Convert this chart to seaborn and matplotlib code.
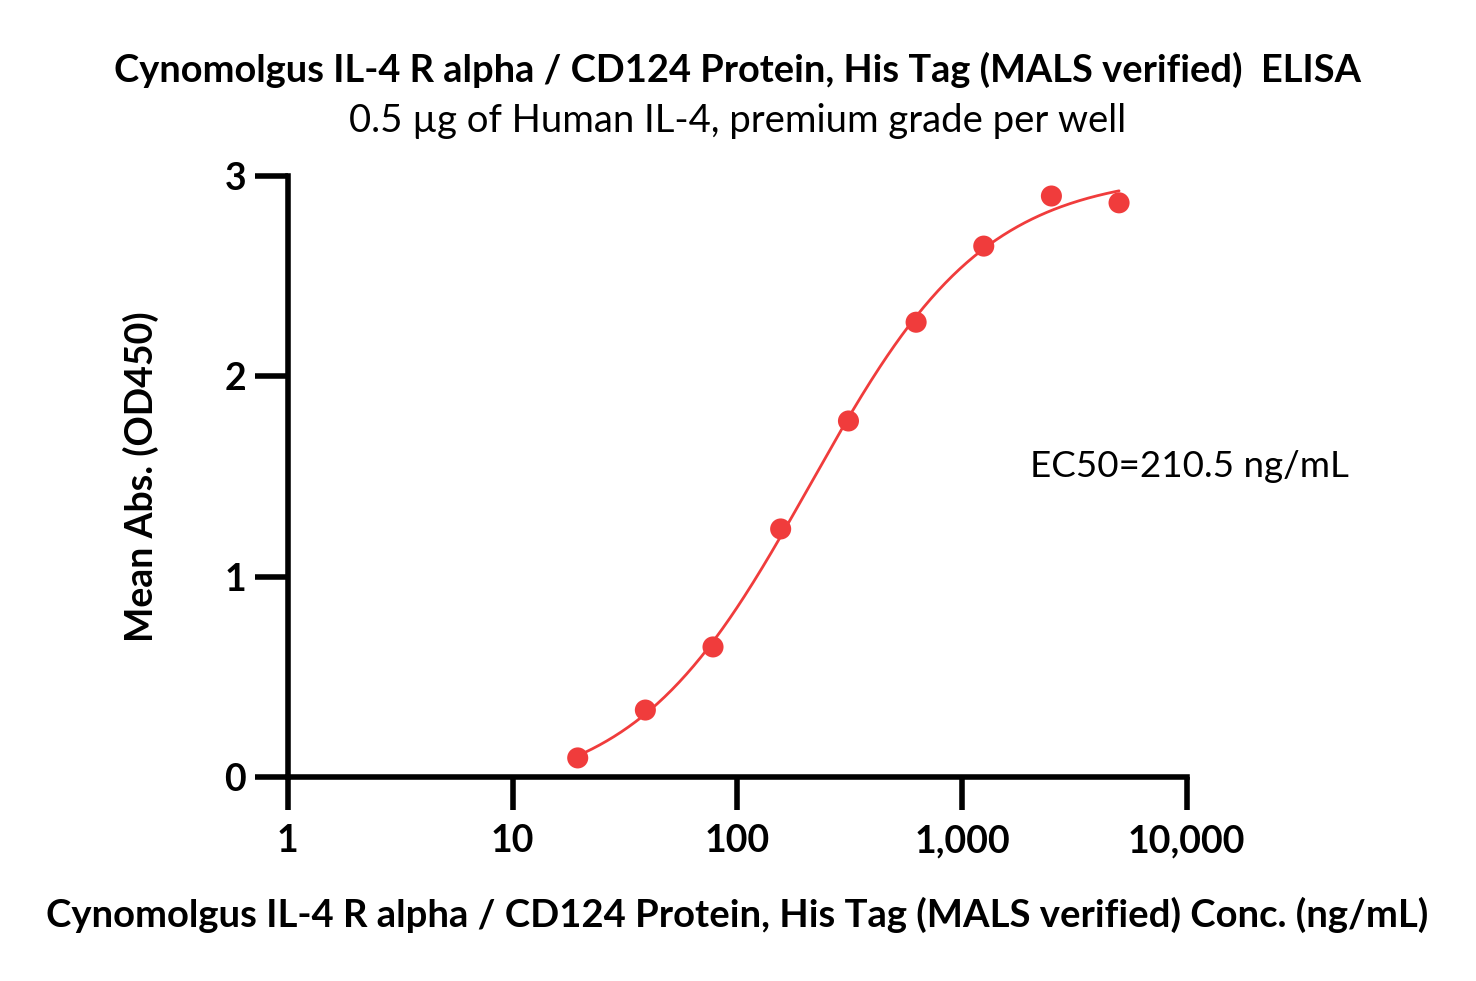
import numpy as np
import pandas as pd
import seaborn as sns
import matplotlib.pyplot as plt

# data
conc = [19.5, 39, 78, 156, 312.5, 625, 1250, 2500, 5000]
od450 = [0.095, 0.334, 0.649, 1.238, 1.777, 2.27, 2.65, 2.90, 2.866]
ec50 = 210.5

x_ticks = [1, 10, 100, 1000, 10000]
x_labels = ["1", "10", "100", "1,000", "10,000"]
y_ticks = [0, 1, 2, 3]

df = pd.DataFrame({"conc": conc, "od": od450})

# 4PL fit with EC50 fixed: bottom/top linear, grid over hill slope
xs = np.array(conc)
ys = np.array(od450)
best = None
for h in np.linspace(0.5, 2.5, 401):
    s = 1 / (1 + (ec50 / xs) ** h)
    A = np.column_stack([np.ones_like(s), s])
    coef, res, _, _ = np.linalg.lstsq(A, ys, rcond=None)
    err = np.sum((A @ coef - ys) ** 2)
    if best is None or err < best[0]:
        best = (err, h, coef)
_, hill, (bottom, span) = best
xfit = np.logspace(np.log10(conc[0]), np.log10(conc[-1]), 300)
yfit = bottom + span / (1 + (ec50 / xfit) ** hill)
fit = pd.DataFrame({"conc": xfit, "od": yfit})

sns.set_style("ticks", {"axes.edgecolor": "black", "text.color": "black",
                        "axes.labelcolor": "black", "xtick.color": "black",
                        "ytick.color": "black"})
plt.rcParams["font.family"] = ["Lato", "DejaVu Sans"]

fig = plt.figure(figsize=(14.76, 9.81), dpi=100)
ax = fig.add_axes([0.195, 0.208, 0.609, 0.6126])

red = "#f03c3c"
sns.lineplot(data=fit, x="conc", y="od", ax=ax, color=red, linewidth=2)
sns.scatterplot(data=df, x="conc", y="od", ax=ax, color=red, s=230,
                edgecolor="none", zorder=3)

ax.set_xscale("log")
ax.set_xlim(1, 10000)
ax.set_ylim(0, 3)
ax.set_xticks(x_ticks)
ax.set_xticklabels(x_labels)
ax.set_yticks(y_ticks)
ax.minorticks_off()
ax.tick_params(axis="both", width=4, length=24, direction="out",
               labelsize=27, pad=6)
for lbl in ax.get_xticklabels() + ax.get_yticklabels():
    lbl.set_fontweight("bold")
ax.tick_params(axis="x", pad=10)
for side in ["left", "bottom"]:
    ax.spines[side].set_linewidth(4)
sns.despine(ax=ax)
ax.spines["left"].set_capstyle("projecting")
ax.spines["bottom"].set_capstyle("projecting")

ax.set_xlabel("Cynomolgus IL-4 R alpha / CD124 Protein, His Tag (MALS verified) Conc. (ng/mL)",
              fontsize=27.5, fontweight="bold")
ax.set_ylabel("Mean Abs. (OD450)", fontsize=27, fontweight="bold")
ax.xaxis.set_label_coords(0.5, -0.2)
ax.yaxis.set_label_coords(-0.143, 0.5)

fig.text(0.5, 0.929, "Cynomolgus IL-4 R alpha / CD124 Protein, His Tag (MALS verified)  ELISA",
         ha="center", va="center", fontsize=27.4, fontweight="bold")
fig.text(0.5, 0.877, "0.5 \u00b5g of Human IL-4, premium grade per well",
         ha="center", va="center", fontsize=27.5)
ax.text(1.003, 1.55, "EC50=210.5 ng/mL", fontsize=26.5, ha="center", va="center",
        transform=ax.get_yaxis_transform())

fig.savefig("out.png", dpi=100)
